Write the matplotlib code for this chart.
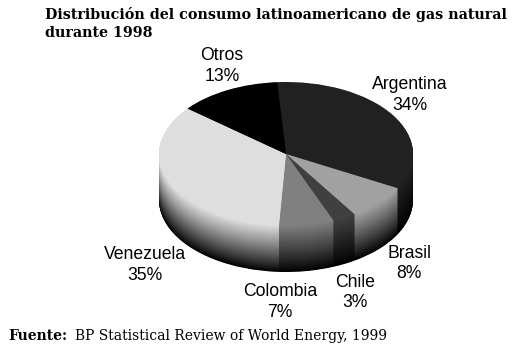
"""
Distribucion del consumo latinoamericano de gas natural, fake 3D pie.
"""

import numpy as np
import matplotlib
matplotlib.use('Agg')
import matplotlib.pyplot as plt

paises = ['Argentina', 'Brasil', 'Chile', 'Colombia', 'Venezuela', 'Otros']
consumo = [34, 8, 3, 7, 35, 13]
grises = [0.13, 0.63, 0.25, 0.50, 0.87, 0.0]

W, H = 518, 358
CX, CY = 286, 154    # centre of the top face, pixels
A, B = 127, 72       # semi axes of the top face, pixels
DEPTH = 46


def px(x, y):
    return x / W, 1 - y / H


fig = plt.figure(figsize=(W / 100, H / 100), dpi=100)
ax = fig.add_axes([0, 0, 1, 1])

# side wall: stacked pies, deepest first
for d in np.arange(DEPTH, 0, -0.5):
    f = (1 - d / DEPTH) ** 0.9
    cols = [(g * f, g * f, g * f) for g in grises]
    ax.pie(consumo, colors=cols, startangle=94, counterclock=False,
           center=(0, -d / B), radius=1, wedgeprops={'linewidth': 0})

# top face
cols = [(g, g, g) for g in grises]
ax.pie(consumo, colors=cols, startangle=94, counterclock=False,
       center=(0, 0), radius=1, wedgeprops={'linewidth': 0})

ax.set_aspect('auto')
ax.set_xlim(-CX / A, (W - CX) / A)
ax.set_ylim(-(H - CY) / B, CY / B)
ax.axis('off')

etiquetas = {
    'Otros': (222, 66),
    'Argentina': (410, 95),
    'Brasil': (409, 263.5),
    'Chile': (355, 292.5),
    'Colombia': (280, 302),
    'Venezuela': (145, 265),
}
for p, v in zip(paises, consumo):
    x, y = px(*etiquetas[p])
    fig.text(x, y, f'{p}\n{v}%', ha='center', va='center', family='Liberation Sans',
             fontsize=12.7, color='black', linespacing=1.3)

x, y = px(45, 14)
fig.text(x, y, 'Distribución del consumo latinoamericano de gas natural', family='DejaVu Serif',
         weight='bold', fontsize=10.25, va='center', ha='left')
x, y = px(45, 33)
fig.text(x, y, 'durante 1998', family='DejaVu Serif', weight='bold', fontsize=10.25, va='center', ha='left')

x, y = px(8, 336)
fig.text(x, y, 'Fuente:', family='DejaVu Serif', weight='bold', fontsize=10, va='center', ha='left')
x, y = px(75, 336)
fig.text(x, y, 'BP Statistical Review of World Energy, 1999', family='DejaVu Serif',
         fontsize=10, va='center', ha='left')

plt.savefig('out.png', dpi=100)
